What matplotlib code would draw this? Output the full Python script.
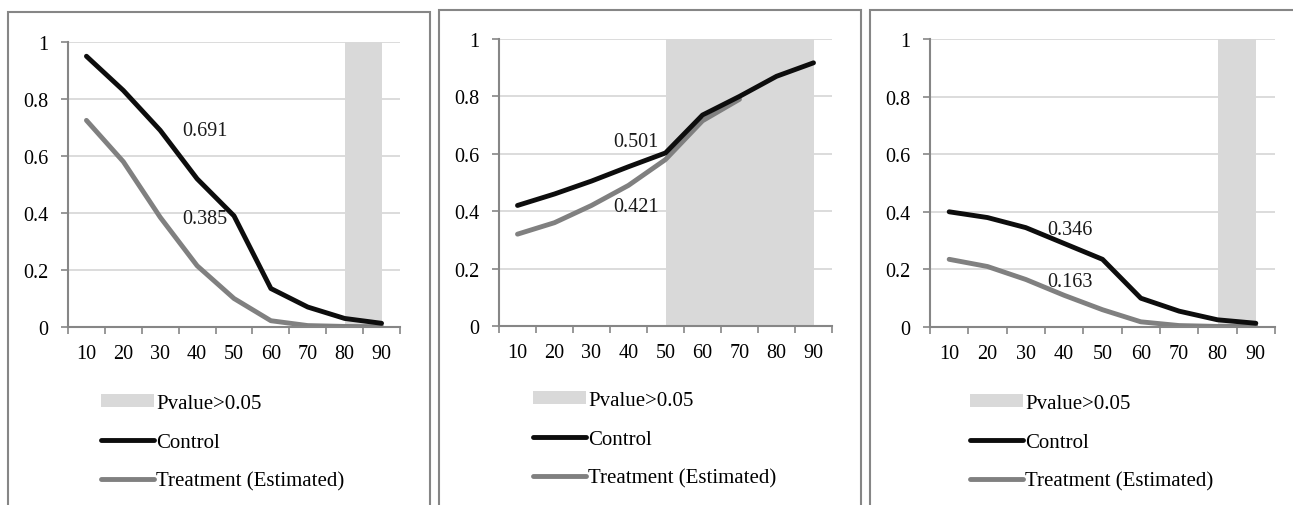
import matplotlib
matplotlib.use('Agg')
import matplotlib.pyplot as plt
from matplotlib.patches import Rectangle, Patch
from matplotlib.lines import Line2D
import numpy as np

plt.rcParams['font.family'] = ['Liberation Serif', 'DejaVu Serif']

CATEGORIES = ['10', '20', '30', '40', '50', '60', '70', '80', '90']

# panel 1
control_1 = [0.95, 0.83, 0.69, 0.52, 0.39, 0.135, 0.07, 0.03, 0.013]
treat_1 = [0.725, 0.58, 0.385, 0.215, 0.10, 0.022, 0.005, 0.002, 0.001]
shade_1 = '80'
labels_1 = [('0.691', 3.2, 0.688), ('0.385', 3.2, 0.379)]

# panel 2
control_2 = [0.42, 0.46, 0.505, 0.555, 0.603, 0.735, 0.80, 0.87, 0.917]
treat_2 = [0.32, 0.36, 0.42, 0.49, 0.58, 0.715, 0.79, np.nan, np.nan]
shade_2 = '50'
labels_2 = [('0.501', 3.2, 0.643), ('0.421', 3.2, 0.415)]

# panel 3
control_3 = [0.40, 0.38, 0.345, 0.29, 0.235, 0.10, 0.055, 0.025, 0.013]
treat_3 = [0.235, 0.21, 0.165, 0.11, 0.06, 0.018, 0.005, 0.002, 0.002]
shade_3 = '80'
labels_3 = [('0.346', 3.15, 0.34), ('0.163', 3.15, 0.157)]

Y_TICKS = [0, 0.2, 0.4, 0.6, 0.8, 1]
Y_LABELS = ['0', '0.2', '0.4', '0.6', '0.8', '1']

GRID = '#d9d9d9'
AXIS = '#868686'
BLACK = '#0d0d0d'
GRAY = '#808080'
FS = 14.5

W, H = 1293, 506
fig = plt.figure(figsize=(W / 100, H / 100), dpi=100)

# (axes box in pixels: left, right, top, bottom), panel border, legend anchor
layout = [
    ((68, 400, 43, 328), (8, 430, 13), (101, 395)),
    ((499, 832, 40, 327), (439, 861, 11), (533, 392)),
    ((930, 1275, 40, 328), (870, 1310, 11), (970, 395)),
]

panels = [
    (control_1, treat_1, shade_1, labels_1),
    (control_2, treat_2, shade_2, labels_2),
    (control_3, treat_3, shade_3, labels_3),
]

for (box, border, leg), (ctrl, trt, shade, labels) in zip(layout, panels):
    l, r, t, b = box
    # panel frame
    bl, br, bt = border
    fig.patches.append(Rectangle((bl / W, -0.1), (br - bl) / W, 1.1 - bt / H,
                                 transform=fig.transFigure, fill=False,
                                 edgecolor=AXIS, lw=1.5, zorder=0))

    ax = fig.add_axes([l / W, 1 - b / H, (r - l) / W, (b - t) / H])
    x = np.arange(len(CATEGORIES))
    ax.axvspan(CATEGORIES.index(shade), len(CATEGORIES) - 1, color=GRID,
               lw=0, zorder=0)
    ax.plot(x, ctrl, color=BLACK, lw=3.5, solid_capstyle='round',
            solid_joinstyle='round', zorder=3)
    ax.plot(x, trt, color=GRAY, lw=3.5, solid_capstyle='round',
            solid_joinstyle='round', zorder=2)
    for txt, tx, ty in labels:
        ax.text(tx, ty, txt, ha='center', va='center', fontsize=FS,
                color='#1a1a1a', zorder=4)

    ax.set_xlim(-0.5, len(CATEGORIES) - 0.5)
    ax.set_ylim(0, 1)
    ax.set_xticks(x)
    ax.set_xticklabels(CATEGORIES, fontsize=FS)
    ax.set_xticks(np.arange(len(CATEGORIES) + 1) - 0.5, minor=True)
    ax.tick_params(axis='x', which='major', length=0, pad=12)
    ax.tick_params(axis='x', which='minor', length=5, width=1.2,
                   color=AXIS, direction='out')
    ax.set_yticks(Y_TICKS)
    ax.set_yticklabels(Y_LABELS, fontsize=FS)
    ax.tick_params(axis='y', length=5, width=1.2, color=AXIS, pad=9)

    ax.yaxis.grid(True, color=GRID, lw=1.3, zorder=0)
    ax.set_axisbelow(True)
    for side in ['top', 'right']:
        ax.spines[side].set_visible(False)
    ax.spines['left'].set_color(AXIS)
    ax.spines['bottom'].set_color(AXIS)
    ax.spines['left'].set_linewidth(1.5)
    ax.spines['bottom'].set_linewidth(1.5)

    handles = [Patch(facecolor=GRID, edgecolor='none'),
               Line2D([], [], color=BLACK, lw=3.5, solid_capstyle='round'),
               Line2D([], [], color=GRAY, lw=3.5, solid_capstyle='round')]
    names = ['Pvalue>0.05', 'Control', 'Treatment (Estimated)']
    lx, ly = leg
    fig.legend(handles, names, loc='upper left',
               bbox_to_anchor=(lx / W, 1 - ly / H),
               bbox_transform=fig.transFigure, frameon=False, fontsize=15,
               handlelength=2.55, handletextpad=0.1, labelspacing=0.95,
               handleheight=0.6, borderpad=0, borderaxespad=0)

plt.savefig('out.png', dpi=100)
